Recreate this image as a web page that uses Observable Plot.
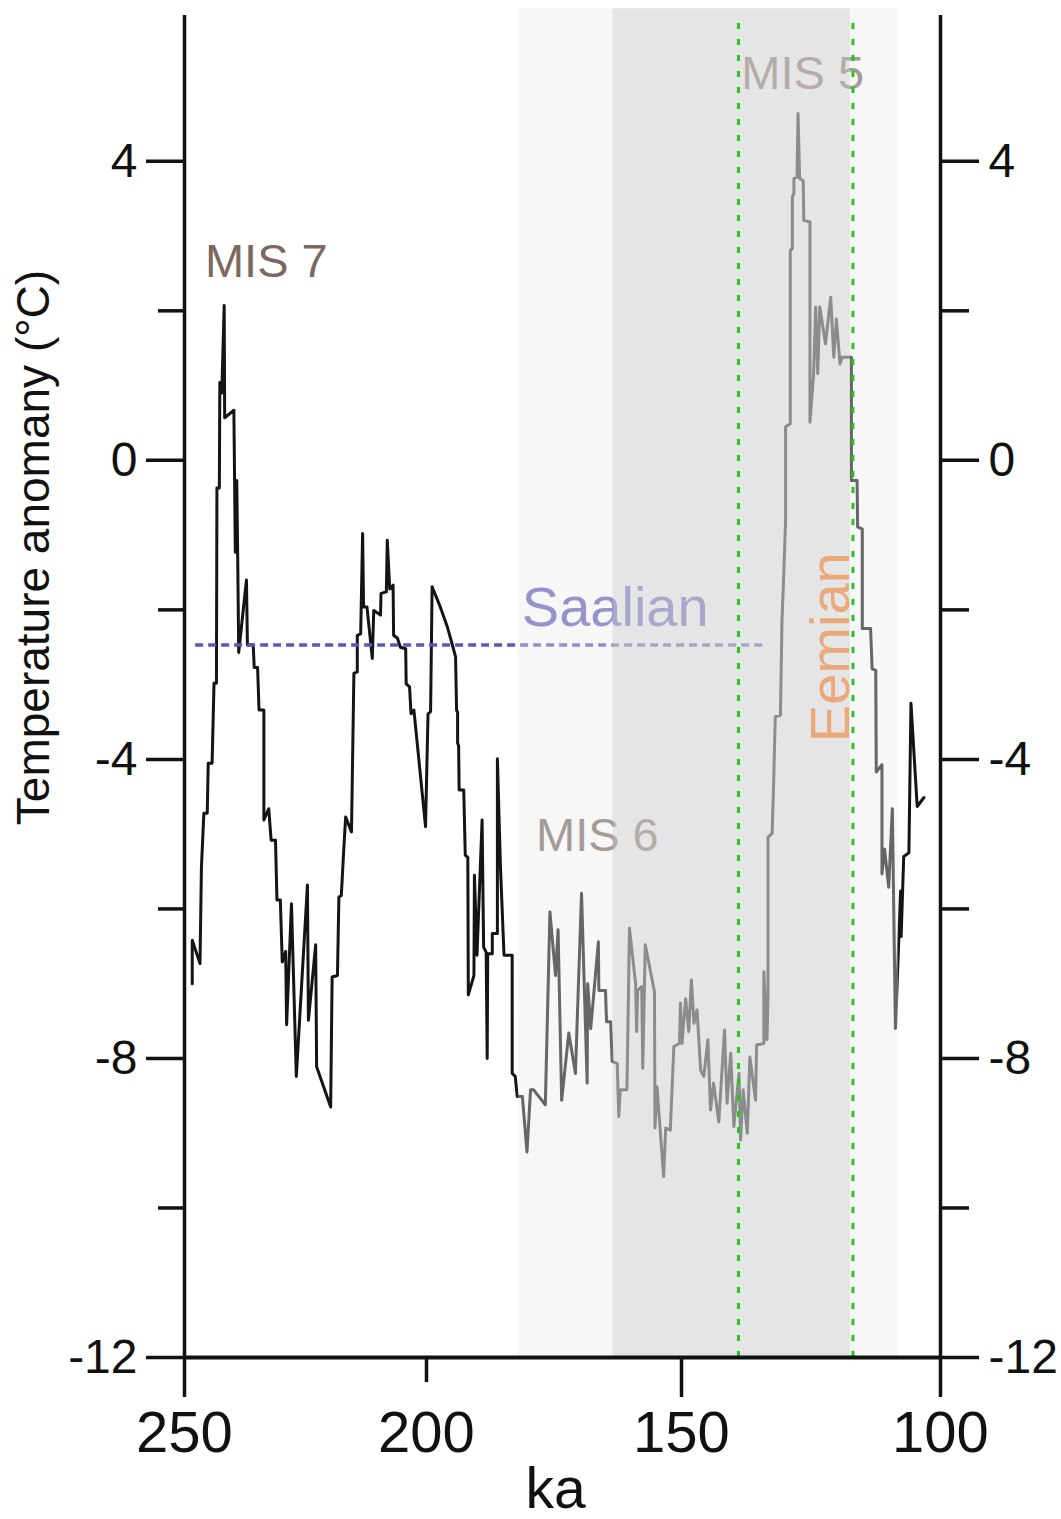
<!DOCTYPE html>
<html>
<head>
<meta charset="utf-8">
<script src="https://cdn.jsdelivr.net/npm/d3@7"></script>
<script src="https://cdn.jsdelivr.net/npm/@observablehq/plot@0.6"></script>
<style>
html, body { margin: 0; padding: 0; background: #fff; }
#chart { width: 1061px; height: 1519px; }
</style>
</head>
<body>
<div id="chart"></div>
<script>
// ---- data (ka before present, temperature anomaly °C) ----
const ageKa = [
248.4, 248.4, 246.8, 246.5, 246.0, 245.3, 245.1, 244.3, 243.9, 243.4,
243.3, 242.8, 242.7, 242.3, 241.8, 241.7, 239.8, 239.5, 239.2, 239.0,
238.8, 237.2, 237.0, 235.8, 235.6, 234.9, 234.6, 233.6, 233.6, 232.6,
232.1, 231.2, 230.9, 230.2, 229.8, 229.1, 228.9, 227.9, 226.9, 224.6,
224.4, 222.9, 222.7, 219.8, 219.5, 218.4, 218.1, 217.6, 217.1, 216.7,
215.5, 215.0, 214.3, 214.3, 213.6, 213.2, 213.0, 212.3, 211.2, 210.9,
209.5, 209.4, 208.3, 208.1, 207.6, 206.9, 206.8, 206.0, 205.4, 204.3,
204.2, 203.5, 203.2, 202.6, 200.2, 199.7, 199.2, 198.9, 197.3, 195.9,
195.0, 194.3, 194.1, 193.9, 193.9, 193.7, 193.6, 192.7, 192.4, 191.9,
191.8, 190.7, 190.6, 190.1, 189.1, 188.8, 188.3, 188.1, 188.0, 187.1,
187.1, 186.1, 186.1, 185.5, 184.8, 183.2, 183.2, 182.6, 182.2, 181.2,
180.3, 179.6, 179.0, 176.7, 175.8, 174.7, 174.2, 173.5, 172.1, 170.8,
169.6, 168.5, 168.4, 167.8, 166.3, 166.2, 164.9, 164.7, 163.9, 163.6,
162.6, 162.3, 162.0, 160.7, 160.2, 159.0, 158.8, 158.6, 157.8, 157.6,
157.1, 155.3, 155.2, 154.8, 153.5, 153.1, 152.2, 151.5, 150.4, 150.2,
149.9, 149.2, 148.6, 148.1, 147.6, 147.0, 146.3, 145.7, 144.9, 144.4,
143.8, 142.8, 141.7, 141.2, 140.5, 139.9, 138.9, 138.6, 138.1, 137.3,
136.8, 135.7, 135.5, 134.1, 134.1, 133.5, 133.3, 133.3, 132.5, 132.2,
131.9, 130.9, 130.6, 130.3, 129.9, 129.9, 129.0, 129.0, 128.6, 128.6,
128.3, 128.3, 127.7, 127.5, 127.2, 126.5, 126.4, 125.2, 125.2, 124.5,
124.1, 123.7, 123.3, 122.2, 121.2, 120.6, 120.1, 119.4, 119.0, 117.2,
117.2, 116.1, 116.0, 115.1, 115.1, 113.5, 113.2, 112.5, 112.4, 111.3,
111.3, 110.8, 110.0, 109.3, 108.7, 107.7, 107.6, 107.1, 106.1, 105.7,
104.5, 103.2
];
const tempAnomaly = [
-7.00, -6.42, -6.73, -5.44, -4.72, -4.72, -4.05, -4.05, -2.98, -2.98,
-0.37, -0.37, 1.04, 0.90, 2.07, 0.57, 0.67, -1.23, -0.27, -1.34,
-2.57, -1.60, -2.47, -2.47, -2.77, -2.77, -3.34, -3.34, -4.81, -4.66,
-5.08, -5.08, -5.88, -5.88, -6.71, -6.57, -7.55, -5.93, -8.24, -5.68,
-7.49, -6.48, -8.11, -8.65, -6.91, -6.89, -5.84, -5.82, -5.21, -4.77,
-4.97, -2.85, -2.83, -2.34, -2.32, -0.98, -1.96, -1.96, -2.65, -2.01,
-2.07, -1.78, -1.76, -1.07, -1.72, -1.67, -2.34, -2.38, -2.50, -2.52,
-2.99, -3.03, -3.39, -3.34, -4.90, -3.39, -3.36, -1.69, -1.96, -2.23,
-2.45, -2.63, -3.34, -3.37, -3.78, -3.82, -4.41, -4.41, -5.28, -5.31,
-7.15, -6.89, -5.55, -6.62, -4.81, -6.51, -6.58, -8.00, -6.60, -6.60,
-6.33, -6.33, -3.99, -5.44, -6.62, -6.62, -8.20, -8.24, -8.51, -8.51,
-9.25, -8.42, -8.42, -8.62, -6.04, -6.89, -6.28, -8.56, -7.66, -8.20,
-5.79, -8.33, -7.00, -7.60, -6.44, -7.09, -7.09, -7.51, -7.51, -8.04,
-8.07, -8.78, -8.42, -8.42, -6.26, -7.00, -7.64, -7.09, -7.04, -8.13,
-6.48, -7.11, -8.93, -8.38, -9.58, -8.93, -8.96, -7.84, -7.80, -7.26,
-7.80, -7.20, -7.64, -6.95, -7.53, -7.35, -8.16, -8.24, -7.75, -8.69,
-8.33, -8.85, -7.62, -8.60, -7.93, -8.91, -8.20, -9.09, -8.42, -9.00,
-7.98, -8.56, -7.82, -7.80, -6.84, -7.75, -7.18, -5.04, -4.99, -4.28,
-3.43, -3.41, -2.14, -1.60, -0.80, 0.45, 0.49, 2.81, 2.83, 3.52,
3.57, 3.77, 3.79, 4.64, 3.77, 3.74, 3.21, 3.19, 0.51, 1.16,
2.05, 1.16, 2.05, 1.56, 2.18, 1.38, 1.89, 1.29, 1.38, 1.38,
-0.27, -0.27, -0.89, -0.92, -2.25, -2.25, -2.79, -2.81, -4.17, -4.07,
-5.53, -5.20, -5.71, -4.66, -7.60, -5.76, -6.37, -5.30, -5.25, -3.25,
-4.63, -4.51
];

const xTickValues = [250, 200, 150, 100];
const yMajorTicks = [4, 0, -4, -8, -12];
const yMinorTicks = [2, -2, -6, -10];

const mis6Outer = [182.0, 108.1];   // ka span of light band
const mis6Inner = [163.4, 117.4];   // ka span of darker band
const eemianBounds = [139.0, 116.9]; // green dotted lines (ka)
const saalianLevel = -2.47;
const saalianSpan = [247.7, 133.8];

const labelText = ["MIS 7", "MIS 6", "MIS 5", "Saalian"];
const labelKa = [233.1, 166.5, 126.6, 163.0];
const labelTemp = [2.65, -5.03, 5.17, -1.97];
const eemianLabel = ["Eemian"];
const eemianKa = [121.05];
const eemianTemp = [-2.5];

const xTitle = "ka";
const yTitle = "Temperature anomany (°C)";

// ---- build ----
const series = ageKa.map((k, i) => ({ka: k, t: tempAnomaly[i]}));
const labels = labelText.map((s, i) => ({s, ka: labelKa[i], t: labelTemp[i]}));
const eem = eemianLabel.map((s, i) => ({s, ka: eemianKa[i], t: eemianTemp[i]}));
const fmt = d => String(d);
const axisStroke = 3.5;

const chart = Plot.plot({
  width: 1061,
  height: 1519,
  marginLeft: 184,
  marginRight: 121,
  marginTop: 15,
  marginBottom: 162,
  style: {fontFamily: "'Liberation Sans', Arial, Helvetica, sans-serif", background: "#fff", color: "#111"},
  x: {type: "linear", domain: [250, 200, 150, 100], range: [184, 426, 681, 940]},
  y: {domain: [-12, 5.95]},
  marks: [
    Plot.line(series, {x: "ka", y: "t", stroke: "#141414", strokeWidth: 3}),
    Plot.ruleY([saalianLevel], {x1: () => saalianSpan[0], x2: () => saalianSpan[1], stroke: "#5b56b8", strokeWidth: 3.4, strokeDasharray: "8,5"}),
    Plot.text(labels.filter(d => d.s !== "Saalian"), {x: "ka", y: "t", text: "s", fill: "#7b6960", fontSize: 47, textAnchor: "middle", lineAnchor: "middle"}),
    Plot.text(labels.filter(d => d.s === "Saalian"), {x: "ka", y: "t", text: "s", fill: "#615bb9", fontSize: 56, textAnchor: "middle", lineAnchor: "middle"}),
    Plot.rect([mis6Outer], {x1: d => d[0], x2: d => d[1], y1: () => -12, y2: () => 6.04, fill: "#eaeaea", fillOpacity: 0.384}),
    Plot.rect([mis6Inner], {x1: d => d[0], x2: d => d[1], y1: () => -12, y2: () => 6.04, fill: "#c9c9c9", fillOpacity: 0.39}),
    Plot.text(eem, {x: "ka", y: "t", text: "s", rotate: -90, fill: "#e9a97b", fontSize: 56, textAnchor: "middle", lineAnchor: "middle"}),
    Plot.ruleX(eemianBounds, {y1: () => -12, y2: () => 5.95, stroke: "#1fc71f", strokeWidth: 3, strokeDasharray: "6,10"}),
    // frame / axes
    Plot.ruleX([xTickValues[0], xTickValues[3]], {y1: () => -12, y2: () => 5.95, stroke: "#111", strokeWidth: axisStroke}),
    Plot.ruleY([-12], {x1: () => 250, x2: () => 100, stroke: "#111", strokeWidth: 4}),
    Plot.axisY({ticks: yMajorTicks, anchor: "left", tickSize: 38, tickPadding: 9, tickFormat: fmt, fontSize: 48, strokeWidth: axisStroke, label: null}),
    Plot.axisY({ticks: yMinorTicks, anchor: "left", tickSize: 26, tickFormat: () => "", strokeWidth: axisStroke, label: null}),
    Plot.axisY({ticks: yMajorTicks, anchor: "right", tickSize: 38, tickPadding: 10, tickFormat: fmt, fontSize: 48, strokeWidth: axisStroke, label: null}),
    Plot.axisY({ticks: yMinorTicks, anchor: "right", tickSize: 28, tickFormat: () => "", strokeWidth: axisStroke, label: null}),
    Plot.axisX({ticks: [250, 150, 100], anchor: "bottom", tickSize: 40, tickPadding: 13, tickFormat: fmt, fontSize: 58, strokeWidth: axisStroke, label: null}),
    Plot.axisX({ticks: [200], anchor: "bottom", tickSize: 25, tickPadding: 28, tickFormat: fmt, fontSize: 58, strokeWidth: axisStroke, label: null}),
    Plot.text([xTitle], {text: d => d, frameAnchor: "bottom", dx: -7, dy: 132, fontSize: 57, textAnchor: "middle", lineAnchor: "middle", fill: "#111"}),
    Plot.text([yTitle], {text: d => d, frameAnchor: "left", dx: -150, dy: -139, rotate: -90, fontSize: 46, textAnchor: "middle", lineAnchor: "middle", fill: "#111"})
  ]
});
document.getElementById("chart").append(chart);
</script>
</body>
</html>
